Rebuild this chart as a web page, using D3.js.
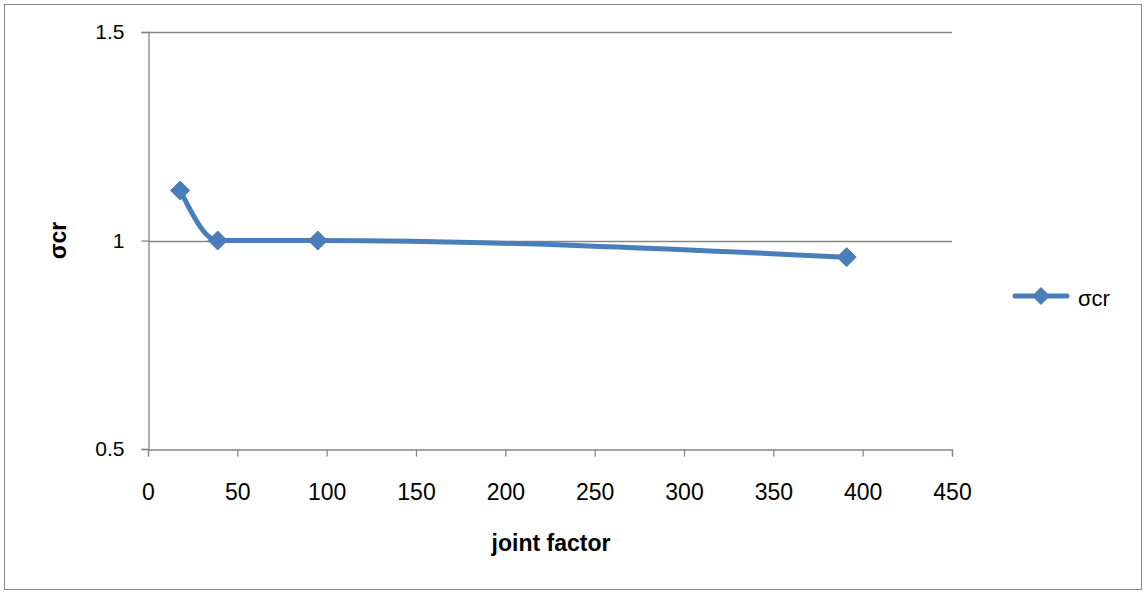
<!DOCTYPE html>
<html>
<head>
<meta charset="utf-8">
<script src="https://cdn.jsdelivr.net/npm/d3@7"></script>
<style>
html,body{margin:0;padding:0;background:#fff;}
svg{display:block;}
text{font-family:"Liberation Sans",Arial,sans-serif;fill:#000;}
</style>
</head>
<body>
<svg id="chart" width="1145" height="594"></svg>
<script>
const jointFactor = [18, 39, 95, 391];
const sigmaCr = [1.12, 1.0, 1.0, 0.96];
const xTicks = [0, 50, 100, 150, 200, 250, 300, 350, 400, 450];
const yTicks = [0.5, 1, 1.5];
const seriesName = "σcr";
const xTitle = "joint factor";
const yTitle = "σcr";

const svg = d3.select("#chart");
const W = 1145, H = 594;
const color = "#4A7EBB";
const gridColor = "#868686";
const FONT = "Liberation Sans, Arial, sans-serif";

svg.append("rect").attr("x", 4.5).attr("y", 4.5).attr("width", W - 8).attr("height", H - 9)
  .attr("fill", "#fff").attr("stroke", "#888").attr("stroke-width", 1);

const plot = {left: 148, right: 952, top: 32, bottom: 449};
const x = d3.scaleLinear().domain([0, 450]).range([plot.left, plot.right]);
const y = d3.scaleLinear().domain([0.5, 1.5]).range([plot.bottom, plot.top]);

// gridlines
svg.append("g").selectAll("line").data(yTicks.filter(d => d !== 0.5)).join("line")
  .attr("x1", plot.left).attr("x2", plot.right)
  .attr("y1", d => Math.round(y(d)) + 0.5).attr("y2", d => Math.round(y(d)) + 0.5)
  .attr("stroke", gridColor).attr("stroke-width", 1.3);

// y axis
const yAxis = svg.append("g").attr("transform", `translate(${plot.left + 0.5},0)`)
  .call(d3.axisLeft(y).tickValues(yTicks).tickFormat(d => String(d)).tickSize(7).tickPadding(17));
yAxis.select(".domain").attr("stroke", gridColor).attr("stroke-width", 1.3);
yAxis.selectAll(".tick line").attr("stroke", gridColor).attr("stroke-width", 1.3);
yAxis.selectAll(".tick text").attr("font-size", 21).attr("font-family", FONT).attr("fill", "#000");

// x axis
const xAxis = svg.append("g").attr("transform", `translate(0,${plot.bottom + 0.5})`)
  .call(d3.axisBottom(x).tickValues(xTicks).tickFormat(d => String(d)).tickSize(7).tickPadding(27));
xAxis.select(".domain").attr("stroke", gridColor).attr("stroke-width", 1.3);
xAxis.selectAll(".tick line").attr("stroke", gridColor).attr("stroke-width", 1.3);
xAxis.selectAll(".tick text").attr("font-size", 23).attr("font-family", FONT).attr("fill", "#000");

// titles
svg.append("text").attr("x", 551).attr("y", 551)
  .attr("text-anchor", "middle").attr("font-size", 23).attr("font-weight", "bold").text(xTitle);
svg.append("text").attr("transform", `translate(66,${y(1)}) rotate(-90)`)
  .attr("text-anchor", "middle").attr("font-size", 23).attr("font-weight", "bold").text(yTitle);

// series
const pts = jointFactor.map((d, i) => [x(d), y(sigmaCr[i])]);
const line = d3.line().curve(d3.curveMonotoneX);
svg.append("path").attr("d", line(pts)).attr("fill", "none")
  .attr("stroke", color).attr("stroke-width", 5).attr("stroke-linejoin", "round").attr("stroke-linecap", "round");

function drawDiamond(g, cx, cy, r) {
  g.append("path").attr("d", `M${cx},${cy - r}L${cx + r},${cy}L${cx},${cy + r}L${cx - r},${cy}Z`)
    .attr("fill", color).attr("stroke", color).attr("stroke-width", 1);
}
const mg = svg.append("g");
pts.forEach(p => drawDiamond(mg, p[0], p[1], 9.5));

// legend
const lg = svg.append("g");
const ly = 296;
lg.append("line").attr("x1", 1015).attr("x2", 1067).attr("y1", ly).attr("y2", ly)
  .attr("stroke", color).attr("stroke-width", 5).attr("stroke-linecap", "round");
drawDiamond(lg, 1041, ly, 8.5);
lg.append("text").attr("x", 1078).attr("y", 306).attr("font-size", 22).text(seriesName);
</script>
</body>
</html>
